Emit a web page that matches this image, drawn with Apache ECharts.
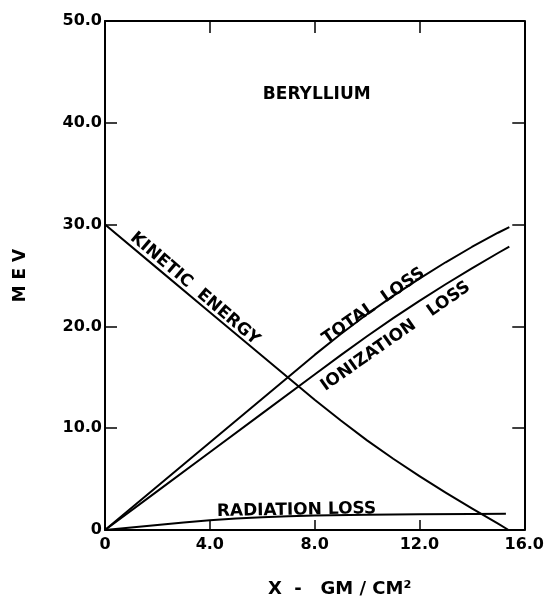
<!DOCTYPE html>
<html>
<head>
<meta charset="utf-8">
<script src="https://cdn.jsdelivr.net/npm/echarts@6/dist/echarts.min.js"></script>
<style>html,body{margin:0;padding:0;background:#fff}#c{width:547px;height:603px}</style>
</head>
<body>
<div id="c"></div>
<script>
// ---- data ----
const xTickLabels = ['0', '4.0', '8.0', '12.0', '16.0'];
const yTickLabels = ['0', '10.0', '20.0', '30.0', '40.0', '50.0'];

const kineticX = [0, 2, 4, 6, 8, 9, 10, 11, 12, 13, 14, 15, 15.4];
const kineticY = [30, 25.7, 21.4, 17.1, 12.8, 10.75, 8.8, 7.0, 5.3, 3.68, 2.13, 0.63, 0];

const totalX = [0, 2, 4, 6, 8, 9, 10, 11, 12, 13, 14, 15, 15.43];
const totalY = [0, 4.3, 8.6, 12.9, 17.2, 19.25, 21.2, 23.0, 24.7, 26.3, 27.8, 29.2, 29.75];

const ionX = [0, 2, 4, 6, 8, 9, 10, 11, 12, 13, 14, 15, 15.43];
const ionY = [0, 3.82, 7.64, 11.46, 15.28, 17.18, 19.03, 20.81, 22.51, 24.14, 25.71, 27.21, 27.83];

const radX = [0, 1, 2, 3, 4, 5, 6, 7, 8, 10, 12, 14, 15.3];
const radY = [0, 0.25, 0.5, 0.73, 0.95, 1.12, 1.25, 1.35, 1.43, 1.5, 1.55, 1.58, 1.6];

const curveLabels = ['KINETIC  ENERGY', 'TOTAL  LOSS', 'IONIZATION   LOSS', 'RADIATION LOSS', 'BERYLLIUM'];
const labelAnchorX = [3.43, 10.25, 11.09, 7.31, 8.08];
const labelAnchorY = [23.7, 22.0, 19.0, 1.95, 42.8];
const labelAngleDeg = [-40.4, 34.9, 35.0, 1.0, 0];

// ---- chart ----
const zip = (xs, ys) => xs.map((x, i) => [x, ys[i]]);
const FONT = '"DejaVu Sans", "Liberation Sans", sans-serif';
const chart = echarts.init(document.getElementById('c'), null, {renderer: 'canvas'});

const lineSeries = (name, xs, ys) => ({
  name, type: 'line', data: zip(xs, ys), smooth: false, showSymbol: false,
  lineStyle: {color: '#000', width: 2, join: 'round'}, xAxisIndex: 0, yAxisIndex: 0, animation: false
});

const axisLine = {show: true, onZero: false, lineStyle: {color: '#000', width: 2}};
const tick = (len) => ({show: true, inside: true, length: len, lineStyle: {color: '#000', width: 1.5}});

chart.setOption({
  animation: false,
  grid: {left: 105, right: 22, top: 21, bottom: 70},
  xAxis: [
    {
      type: 'value', min: 0, max: 16, interval: 4, position: 'bottom',
      axisLine, splitLine: {show: false}, axisTick: tick(10),
      axisLabel: {
        color: '#000', fontFamily: FONT, fontWeight: 'bold', fontSize: 16, margin: 7,
        formatter: (v) => xTickLabels[Math.round(v / 4)]
      },
      name: 'X  -   GM / CM²', nameLocation: 'middle', nameGap: 50,
      nameTextStyle: {color: '#000', fontFamily: FONT, fontWeight: 'bold', fontSize: 18, padding: [0, 0, 0, 50]}
    },
    {
      type: 'value', min: 0, max: 16, interval: 4, position: 'top',
      axisLine, splitLine: {show: false}, axisTick: tick(12),
      axisLabel: {show: false}
    }
  ],
  yAxis: [
    {
      type: 'value', min: 0, max: 50, interval: 10, position: 'left',
      axisLine, splitLine: {show: false}, axisTick: tick(12),
      axisLabel: {
        color: '#000', fontFamily: FONT, fontWeight: 'bold', fontSize: 16, margin: 3,
        formatter: (v) => yTickLabels[Math.round(v / 10)]
      },
      name: 'M E V', nameLocation: 'middle', nameGap: 76, nameRotate: 90,
      nameTextStyle: {color: '#000', fontFamily: FONT, fontWeight: 'bold', fontSize: 17}
    },
    {
      type: 'value', min: 0, max: 50, interval: 10, position: 'right',
      axisLine, splitLine: {show: false}, axisTick: tick(12),
      axisLabel: {show: false}
    }
  ],
  series: [
    lineSeries('Kinetic energy', kineticX, kineticY),
    lineSeries('Total loss', totalX, totalY),
    lineSeries('Ionization loss', ionX, ionY),
    lineSeries('Radiation loss', radX, radY)
  ]
});

// place curve labels through the chart's own coordinate conversion
const graphics = curveLabels.map((t, i) => {
  const p = chart.convertToPixel({gridIndex: 0}, [labelAnchorX[i], labelAnchorY[i]]);
  return {
    type: 'text', x: p[0], y: p[1], rotation: labelAngleDeg[i] * Math.PI / 180,
    style: {
      text: t, align: 'center', verticalAlign: 'middle', fill: '#000',
      font: 'bold 17px ' + FONT
    }
  };
});
chart.setOption({graphic: graphics});
</script>
</body>
</html>
